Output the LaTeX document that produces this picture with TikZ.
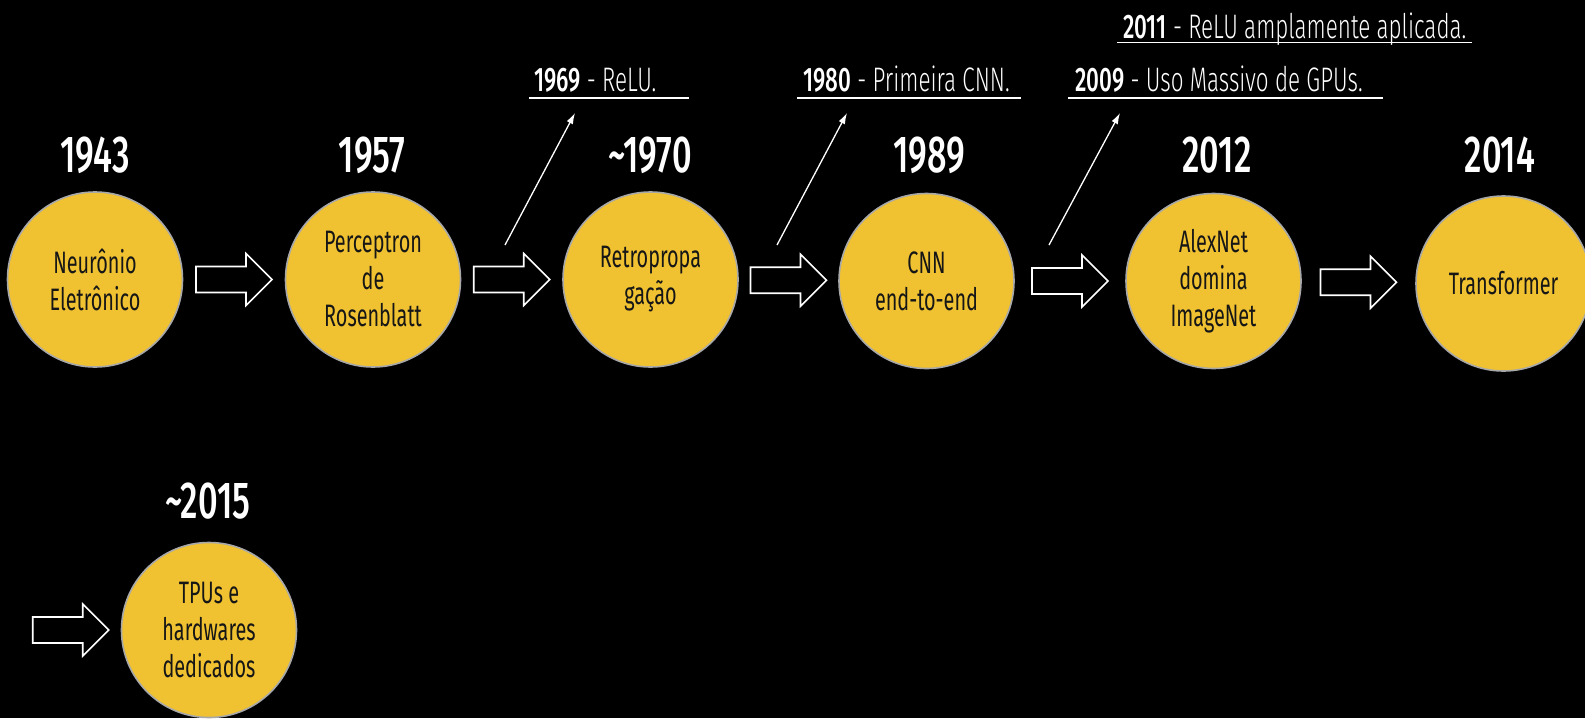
\documentclass[tikz,border=0pt]{standalone}
\usepackage{fontspec}
\setmainfont[FakeStretch=0.66, UprightFont={* Light}, BoldFont={* Medium}]{Fira Sans}
\newfontfamily\circfont[FakeStretch=0.64]{Fira Sans}
\usetikzlibrary{arrows.meta,calc}
\definecolor{gold}{HTML}{F0C232}
\definecolor{rim}{HTML}{A8A8A8}
\definecolor{ink}{HTML}{161616}

\begin{document}
\begin{tikzpicture}[x=1pt,y=-1pt,
  event/.style={circle, fill=gold, draw=rim, line width=1.6pt, minimum size=175pt,
    inner sep=0pt, align=center, text=ink, font=\circfont\fontsize{31}{37}\selectfont},
  yearlbl/.style={text=white, anchor=base, inner sep=0pt, font=\fontsize{52}{52}\selectfont\bfseries},
  notetxt/.style={text=white, anchor=base west, inner sep=0pt, font=\fontsize{34}{34}\selectfont},
  noteline/.style={white, line width=1.6pt},
  notearrow/.style={white, line width=1.3pt, -{Latex[length=11pt,width=7pt]}},
  pics/blockarrow/.style={code={
    \draw[white, fill=black, line width=1.6pt, line join=miter]
      (-38,-13) -- (12,-13) -- (12,-26) -- (38,0) -- (12,26) -- (12,13) -- (-38,13) -- cycle;}}
]
% canvas
\fill[black] (0,0) rectangle (1585,718);
\useasboundingbox (0,0) rectangle (1585,718);

% milestones
\node[event] (c1) at (95,279.5)   {Neurônio\\Eletrônico};
\node[event] (c2) at (373,279.5)  {Perceptron\\de\\Rosenblatt};
\node[event] (c3) at (650.5,279.5){Retropropa\\gação};
\node[event] (c4) at (926.5,281)  {CNN\\end-to-end};
\node[event] (c5) at (1213.5,281) {AlexNet\\domina\\ImageNet};
\node[event] (c6) at (1503.5,283.5){Transformer};
\node[event] (c7) at (209,630)    {TPUs e\\hardwares\\dedicados};

% years
\node[yearlbl] (y1) at (95,172)   {1943};
\node[yearlbl] (y2) at (372,172)  {1957};
\node[yearlbl] (y3) at (650,172)  {\textasciitilde1970};
\node[yearlbl] (y4) at (929,172)  {1989};
\node[yearlbl] (y5) at (1217,172) {2012};
\node[yearlbl] (y6) at (1500,172) {2014};
\node[yearlbl] (y7) at (208,518)  {\textasciitilde2015};

% block arrows between milestones
\pic at ($(c1)!0.5!(c2)$) {blockarrow};
\pic at ($(c2)!0.5!(c3)$) {blockarrow};
\pic at ($(c3)!0.5!(c4)$) {blockarrow};
\pic at ($(c4)!0.5!(c5)$) {blockarrow};
\pic at ($(c5)!0.5!(c6)$) {blockarrow};
\pic at ($(c7.west)+(-50,0)$) {blockarrow};

% side notes
\node[notetxt] (n1) at (534,91)   {\textbf{1969} - ReLU.};
\node[notetxt] (n2) at (803,91)   {\textbf{1980} - Primeira CNN.};
\node[notetxt] (n3) at (1075,91)  {\textbf{2009} - Uso Massivo de GPUs.};
\node[notetxt] (n4) at (1123,38)  {\textbf{2011} - ReLU amplamente aplicada.};

\draw[noteline] (529,98)   -- (689,98);
\draw[noteline] (797,98)   -- (1021,98);
\draw[noteline] (1068,98)  -- (1383,98);
\draw[noteline] (1117,42.5) -- (1472,42.5);

% pointers to the notes
\coordinate (p1) at (505,245);  \coordinate (q1) at (575,113);
\coordinate (p2) at (777,245);  \coordinate (q2) at (847,113);
\coordinate (p3) at (1049,245); \coordinate (q3) at (1120,113);
\draw[notearrow] (p1) -- (q1);
\draw[notearrow] (p2) -- (q2);
\draw[notearrow] (p3) -- (q3);
\end{tikzpicture}
\end{document}
